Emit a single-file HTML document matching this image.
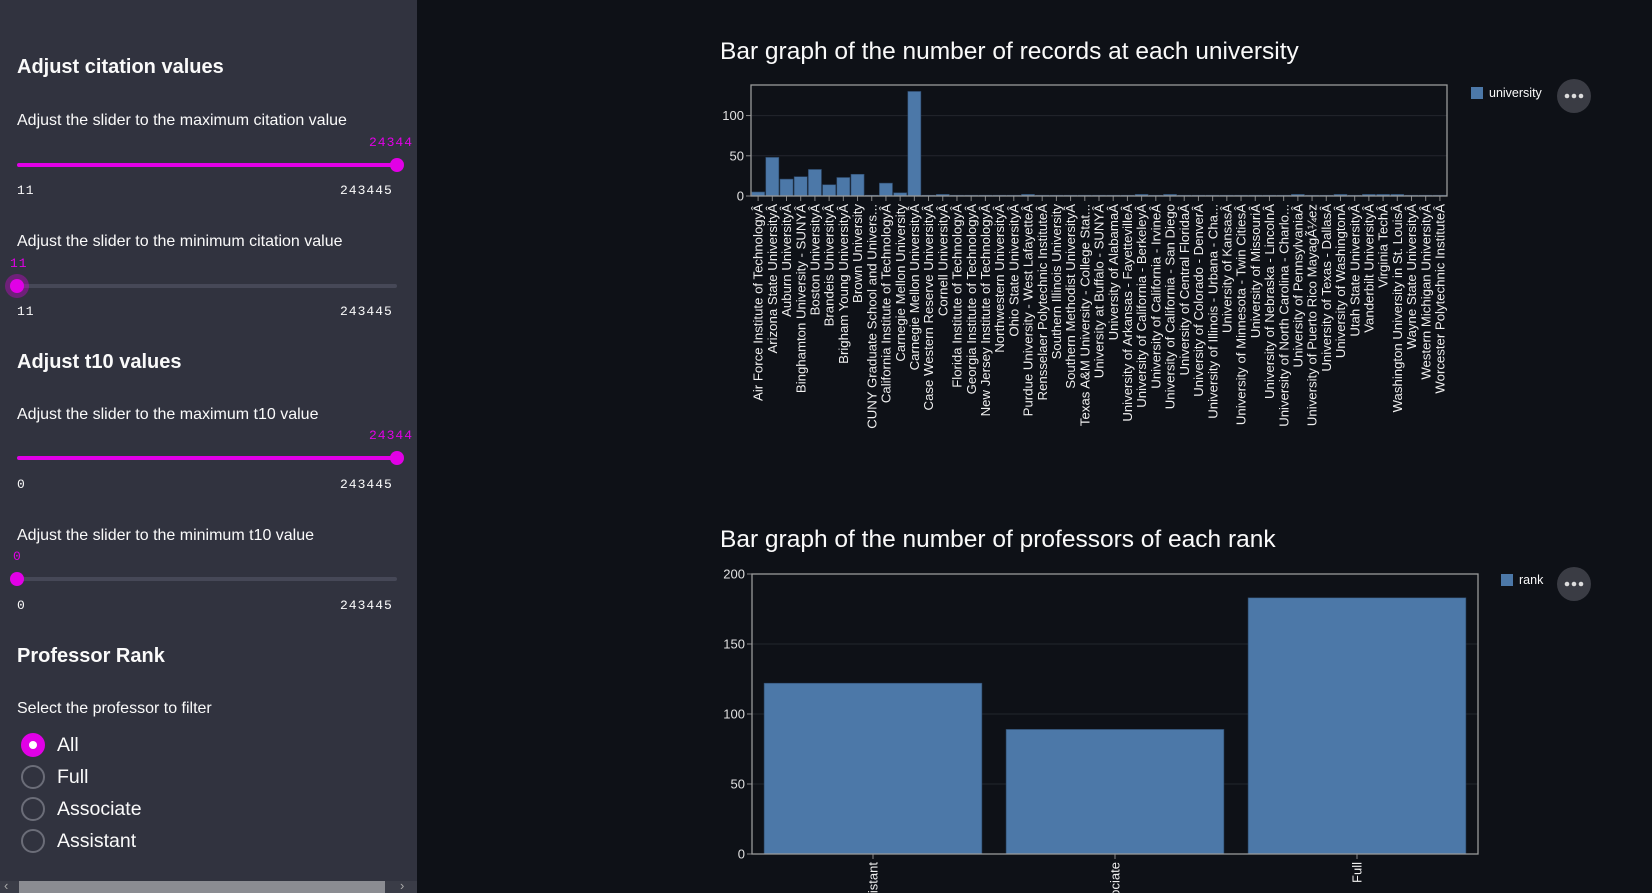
<!DOCTYPE html>
<html><head><meta charset="utf-8">
<style>
html,body{margin:0;padding:0;width:1652px;height:893px;overflow:hidden;background:#0e1117;font-family:"Liberation Sans",sans-serif;}
#side{position:absolute;left:0;top:0;width:417px;height:893px;background:#31333f;color:#fafafa;}
.t{position:absolute;white-space:nowrap;}
.h{font-weight:bold;font-size:20px;left:17px;}
.l{font-size:16px;left:17px;}
.m{font-family:"Liberation Mono",monospace;font-size:13px;letter-spacing:1px;}
.mg{color:#e100e6;}
.track{position:absolute;left:17px;width:380px;height:4px;border-radius:2px;}
.thumb{position:absolute;width:14px;height:14px;border-radius:50%;background:#e100e6;}
.radio{position:absolute;left:21px;width:20px;height:20px;border-radius:50%;border:2px solid #6b6d78;}
.rl{position:absolute;left:57px;font-size:19.5px;}
svg text{font-family:"Liberation Sans",sans-serif;}
</style></head><body>
<div id="side">
  <div class="t h" style="top:56px">Adjust citation values</div>
  <div class="t l" style="top:112px">Adjust the slider to the maximum citation value</div>
  <div class="t m mg" style="top:135px;left:369px">24344</div>
  <div class="track" style="top:163px;background:#e100e6"></div>
  <div class="thumb" style="top:158px;left:390px"></div>
  <div class="t m" style="top:183px;left:17px">11</div>
  <div class="t m" style="top:183px;left:340px">243445</div>

  <div class="t l" style="top:233px">Adjust the slider to the minimum citation value</div>
  <div class="t m mg" style="top:256px;left:10px">11</div>
  <div class="track" style="top:284px;background:#464857"></div>
  <div class="thumb" style="top:279px;left:10px;box-shadow:0 0 0 5px rgba(225,0,230,0.35)"></div>
  <div class="t m" style="top:304px;left:17px">11</div>
  <div class="t m" style="top:304px;left:340px">243445</div>

  <div class="t h" style="top:351px">Adjust t10 values</div>
  <div class="t l" style="top:406px">Adjust the slider to the maximum t10 value</div>
  <div class="t m mg" style="top:428px;left:369px">24344</div>
  <div class="track" style="top:456px;background:#e100e6"></div>
  <div class="thumb" style="top:451px;left:390px"></div>
  <div class="t m" style="top:477px;left:17px">0</div>
  <div class="t m" style="top:477px;left:340px">243445</div>

  <div class="t l" style="top:527px">Adjust the slider to the minimum t10 value</div>
  <div class="t m mg" style="top:549px;left:13px">0</div>
  <div class="track" style="top:577px;background:#464857"></div>
  <div class="thumb" style="top:572px;left:10px"></div>
  <div class="t m" style="top:598px;left:17px">0</div>
  <div class="t m" style="top:598px;left:340px">243445</div>

  <div class="t h" style="top:645px">Professor Rank</div>
  <div class="t l" style="top:700px">Select the professor to filter</div>
  <div class="radio" style="top:733px;border-color:#e100e6;background:#e100e6"><div style="position:absolute;left:6px;top:6px;width:8px;height:8px;border-radius:50%;background:#fff"></div></div>
  <div class="rl" style="top:734px">All</div>
  <div class="radio" style="top:765px"></div>
  <div class="rl" style="top:766px">Full</div>
  <div class="radio" style="top:797px"></div>
  <div class="rl" style="top:798px">Associate</div>
  <div class="radio" style="top:829px"></div>
  <div class="rl" style="top:830px">Assistant</div>

  <div style="position:absolute;left:0;top:881px;width:417px;height:12px;background:#3a3c47">
    <div style="position:absolute;left:19px;top:0;width:366px;height:12px;background:#8b8c92"></div>
    <div style="position:absolute;left:4px;top:-3px;color:#aaa;font-size:13px">‹</div>
    <div style="position:absolute;left:400px;top:-3px;color:#aaa;font-size:13px">›</div>
  </div>
</div>

<svg id="charts" width="1652" height="893" style="position:absolute;left:0;top:0"></svg>

<script>
const uniNames = ["Air Force Institute of TechnologyÂ","Arizona State UniversityÂ","Auburn UniversityÂ","Binghamton University - SUNYÂ","Boston UniversityÂ","Brandeis UniversityÂ","Brigham Young UniversityÂ","Brown University","CUNY Graduate School and Univers...","California Institute of TechnologyÂ","Carnegie Mellon University","Carnegie Mellon UniversityÂ","Case Western Reserve UniversityÂ","Cornell UniversityÂ","Florida Institute of TechnologyÂ","Georgia Institute of TechnologyÂ","New Jersey Institute of TechnologyÂ","Northwestern UniversityÂ","Ohio State UniversityÂ","Purdue University - West LafayetteÂ","Rensselaer Polytechnic InstituteÂ","Southern Illinois University","Southern Methodist UniversityÂ","Texas A&M University - College Stat...","University at Buffalo - SUNYÂ","University of AlabamaÂ","University of Arkansas - FayettevilleÂ","University of California - BerkeleyÂ","University of California - IrvineÂ","University of California - San Diego","University of Central FloridaÂ","University of Colorado - DenverÂ","University of Illinois - Urbana - Cha...","University of KansasÂ","University of Minnesota - Twin CitiesÂ","University of MissouriÂ","University of Nebraska - LincolnÂ","University of North Carolina - Charlo...","University of PennsylvaniaÂ","University of Puerto Rico MayagÃ¼ez","University of Texas - DallasÂ","University of WashingtonÂ","Utah State UniversityÂ","Vanderbilt UniversityÂ","Virginia TechÂ","Washington University in St. LouisÂ","Wayne State UniversityÂ","Western Michigan UniversityÂ","Worcester Polytechnic InstituteÂ"];
const uniCounts = [5,48,21,24,33,14,23,27,1,16,4,130,1,2,1,1,1,1,1,2,1,1,1,1,1,1,1,2,1,2,1,1,1,1,1,1,1,1,2,1,1,2,1,2,2,2,1,1,1];
const uniTicks = [0,50,100];
const rankNames = ["Assistant","Associate","Full"];
const rankCounts = [122,89,183];
const rankTicks = [0,50,100,150,200];

const NS="http://www.w3.org/2000/svg";
const svg=document.getElementById('charts');
function mk(tag,attrs,parent){const e=document.createElementNS(NS,tag);for(const k in attrs)e.setAttribute(k,attrs[k]);(parent||svg).appendChild(e);return e;}

function chart(o){
  const g=mk('g',{});
  
  
  const t=mk('text',{x:o.tx,y:o.ty,fill:'#fafafa','font-size':24.5},g);t.textContent=o.title;
  
  
  const y=v=>o.y1-(v/o.ymax)*(o.y1-o.y0);
  o.ticks.forEach(v=>{
    mk('line',{x1:o.x0,x2:o.x1,y1:y(v),y2:y(v),stroke:'#23262e','stroke-width':1},g);
    mk('line',{x1:o.x0-5,x2:o.x0,y1:y(v),y2:y(v),stroke:'#888','stroke-width':1},g);
    const tl=mk('text',{x:o.x0-7,y:y(v)+4.5,fill:'#e0e0e0','font-size':13,'text-anchor':'end'},g);tl.textContent=v;
    
    
  });
  const n=o.cats.length, bw=(o.x1-o.x0)/n, pad=bw*o.pad;
  o.vals.forEach((v,i)=>{
    const b=mk('rect',{x:o.x0+i*bw+pad/2,y:y(v),width:bw-pad,height:o.y1-y(v),fill:'#4c78a8',stroke:'#2e4a6b','stroke-width':0.6},g);
    
    
    const cx=o.x0+(i+0.5)*bw;
    mk('line',{x1:cx,x2:cx,y1:o.y1,y2:o.y1+5,stroke:'#888'},g);
    const lb=mk('text',{x:0,y:0,fill:'#f0f0f0','font-size':o.lfs,'text-anchor':'end',transform:`translate(${cx+o.lfs*0.35},${o.y1+8}) rotate(-90)`},g);
    lb.textContent=o.cats[i];
    
    
  });
  mk('rect',{x:o.x0,y:o.y0,width:o.x1-o.x0,height:o.y1-o.y0,fill:'none',stroke:'#9a9a9a','stroke-width':1.3},g);
  const ls=mk('rect',{x:o.lx,y:o.ly,width:12,height:12,fill:'#4c78a8'},g);
  
  
  const lt=mk('text',{x:o.lx+18,y:o.ly+10,fill:'#fafafa','font-size':12.5},g);lt.textContent=o.legend;
  
  
  const mb=mk('circle',{cx:1574,cy:o.my,r:17,fill:'#3a3c44'},g);
  
  
  [-7,0,7].forEach(d=>mk('circle',{cx:1574+d,cy:o.my,r:2.3,fill:'#ddd'},g));
}
chart({name:'university-chart',title:'Bar graph of the number of records at each university',tx:720,ty:59,x0:751,x1:1447,y0:85,y1:196,ymax:138,ticks:uniTicks,cats:uniNames,vals:uniCounts,pad:0.08,lfs:13.2,lx:1471,ly:87,legend:'university',my:96});
chart({name:'rank-chart',title:'Bar graph of the number of professors of each rank',tx:720,ty:547,x0:752,x1:1478,y0:574,y1:854,ymax:200,ticks:rankTicks,cats:rankNames,vals:rankCounts,pad:0.1,lfs:13,lx:1501,ly:574,legend:'rank',my:584});
</script>
</body></html>
